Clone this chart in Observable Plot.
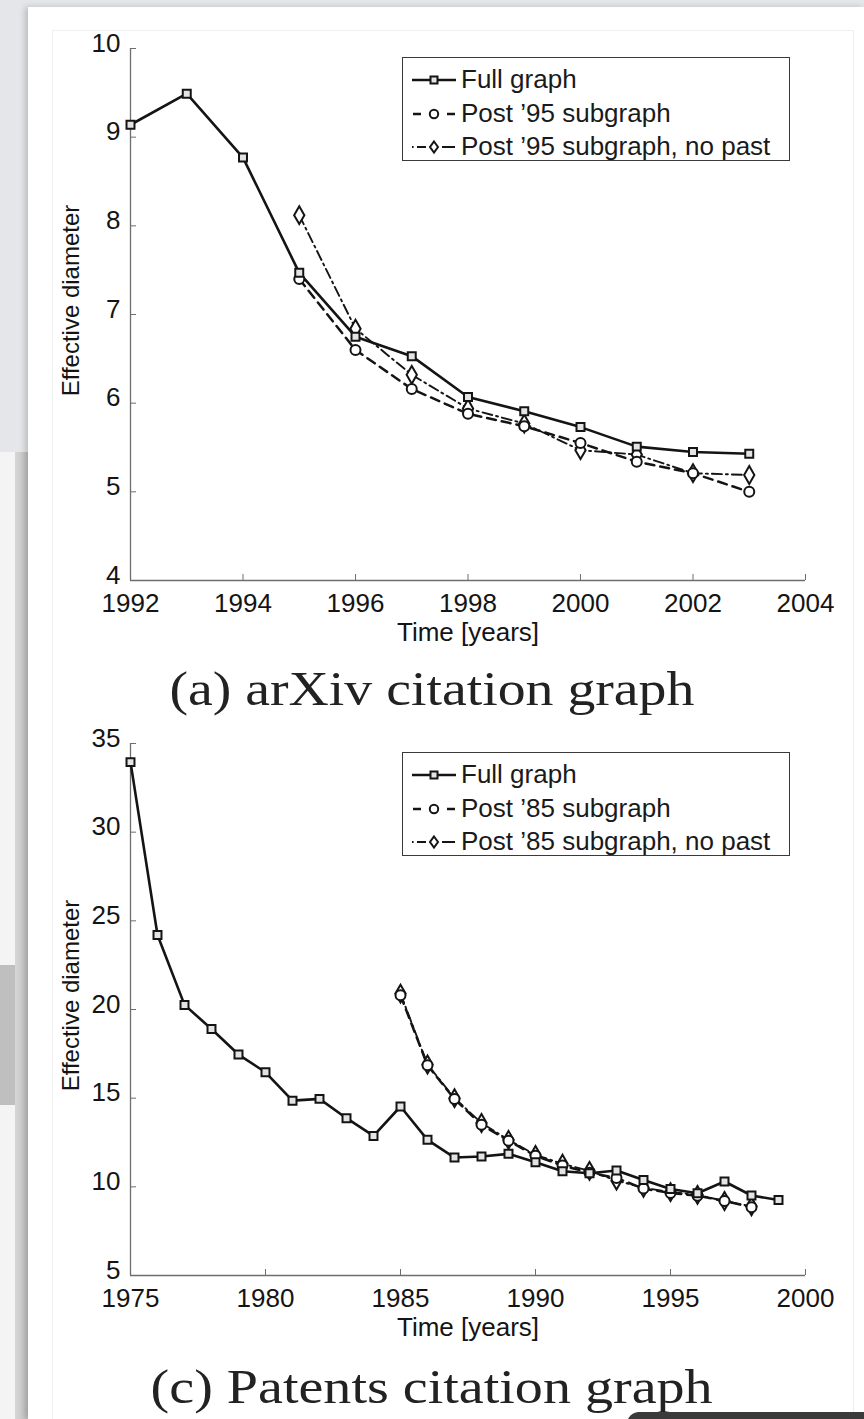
<!DOCTYPE html>
<html>
<head>
<meta charset="utf-8">
<script src="https://cdn.jsdelivr.net/npm/d3@7"></script>
<script src="https://cdn.jsdelivr.net/npm/@observablehq/plot@0.6"></script>
<style>
html,body{margin:0;padding:0;}
body{width:864px;height:1419px;position:relative;background:#e4e6e9;overflow:hidden;font-family:"Liberation Sans",Arial,Helvetica,sans-serif;}
#strip1{position:absolute;left:0;top:452px;width:15px;height:967px;background:#f4f4f4;}
#strip2{position:absolute;left:15px;top:452px;width:13px;height:967px;background:linear-gradient(to right,#d6d6d6,#c2c2c2);}
#strip3{position:absolute;left:0;top:965px;width:15px;height:140px;background:#bfbfbf;}
#page{position:absolute;left:28px;top:7px;width:836px;height:1412px;background:#fff;box-shadow:-3px 0 6px rgba(0,0,0,0.18);}
#inner{position:absolute;left:52px;top:30px;width:800px;height:1389px;border-left:1px solid #f0f0f0;border-top:1px solid #f0f0f0;border-right:1px solid #eeeeee;}
#dark{position:absolute;left:627px;top:1412px;width:250px;height:20px;background:#3a3a3a;border-radius:12px 12px 0 0;}
.chart{position:absolute;left:0;}
.legend{position:absolute;left:402px;width:386px;height:102px;border:1.5px solid #3a3a3a;background:#fff;}
.row{position:absolute;left:0;height:33px;width:386px;}
.row svg{position:absolute;left:9px;top:6px;}
.row span{position:absolute;left:58px;top:0;line-height:33px;font-size:26px;color:#1a1a1a;white-space:nowrap;}
.caption{position:absolute;left:0;width:864px;text-align:center;font-family:"Liberation Serif","Times New Roman",serif;font-size:48px;line-height:48px;color:#222;}
.caption span{display:inline-block;transform-origin:center;}
</style>
</head>
<body>
<div id="strip1"></div><div id="strip2"></div><div id="strip3"></div>
<div id="page"></div>
<div id="inner"></div>
<div id="chartA" class="chart" style="top:0"></div>
<div id="chartC" class="chart" style="top:700px"></div>
<div id="legA" class="legend" style="top:57px"></div>
<div id="legC" class="legend" style="top:752px"></div>
<div id="capA" class="caption" style="top:665px"><span data-w="525">(a) arXiv citation graph</span></div>
<div id="capC" class="caption" style="top:1363px"><span data-w="562">(c) Patents citation graph</span></div>
<div id="dark"></div>
<script>
// ---------- arXiv citation graph ----------
const arxivYears = [1992,1993,1994,1995,1996,1997,1998,1999,2000,2001,2002,2003];
const arxivFull = [9.14,9.49,8.77,7.47,6.75,6.53,6.07,5.91,5.73,5.51,5.45,5.43];
const arxivSubYears = [1995,1996,1997,1998,1999,2000,2001,2002,2003];
const arxivPost = [7.40,6.60,6.16,5.88,5.74,5.55,5.34,5.21,5.00];
const arxivNoPast = [8.12,6.84,6.32,5.94,5.77,5.47,5.42,5.21,5.19];
const arxivXTicks = [1992,1994,1996,1998,2000,2002,2004];
const arxivYTicks = [4,5,6,7,8,9,10];
const arxivLegend = ["Full graph","Post \u201995 subgraph","Post \u201995 subgraph, no past"];

// ---------- Patents citation graph ----------
const patYears = [1975,1976,1977,1978,1979,1980,1981,1982,1983,1984,1985,1986,1987,1988,1989,1990,1991,1992,1993,1994,1995,1996,1997,1998,1999];
const patFull = [33.95,24.2,20.26,18.9,17.46,16.46,14.86,14.96,13.87,12.87,14.53,12.65,11.65,11.71,11.86,11.39,10.88,10.77,10.92,10.39,9.88,9.64,10.30,9.51,9.26];
const patSubYears = [1985,1986,1987,1988,1989,1990,1991,1992,1993,1994,1995,1996,1997,1998];
const patPost = [20.8,16.85,14.95,13.5,12.6,11.75,11.2,10.8,10.5,9.9,9.65,9.5,9.2,8.85];
const patNoPast = [20.9,16.9,15.0,13.6,12.65,11.8,11.3,10.9,10.35,9.95,9.7,9.55,9.2,8.9];
const patXTicks = [1975,1980,1985,1990,1995,2000];
const patYTicks = [5,10,15,20,25,30,35];
const patLegend = ["Full graph","Post \u201985 subgraph","Post \u201985 subgraph, no past"];

const yLabel = "Effective diameter";
const xLabel = "Time [years]";

const font = '"Liberation Sans", Arial, Helvetica, sans-serif';
const ink = "#141414";
const axisGray = "#6e6e6e";

function toRows(years, vals) { return years.map((year, i) => ({year, v: vals[i]})); }

function makeChart({years, full, subYears, post, nopast, xDomain, xTicks, yDomain, yTicks, height, marginTop}) {
  const fullData = toRows(years, full);
  const postData = toRows(subYears, post);
  const noPastData = toRows(subYears, nopast);
  return Plot.plot({
    width: 864, height, marginTop, marginBottom: height - marginTop - 532, marginLeft: 130, marginRight: 59,
    style: {fontFamily: font, fontSize: "26px", background: "transparent", color: ink, overflow: "visible"},
    x: {domain: xDomain, label: null},
    y: {domain: yDomain, label: null},
    marks: [
      Plot.ruleX([xDomain[0]], {stroke: axisGray, strokeWidth: 1.3}),
      Plot.ruleY([yDomain[0]], {stroke: axisGray, strokeWidth: 1.3}),
      Plot.axisX({ticks: xTicks, tickFormat: "d", tickSize: -6, tickPadding: 19, stroke: axisGray, fill: ink, label: null}),
      // inward y ticks (no labels)
      Plot.axisY({ticks: yTicks, tickFormat: () => "", tickSize: -6, stroke: axisGray, label: null}),
      // y tick labels, sitting slightly above their ticks as in the reference
      Plot.axisY({ticks: yTicks, tickFormat: "d", tickSize: 0, tickPadding: 10, dy: -5, fill: ink, label: null}),
      Plot.text([yLabel], {text: d => d, frameAnchor: "left", textAnchor: "middle", lineAnchor: "middle", dx: -59, dy: -14, rotate: -90, fontSize: 24, fill: ink}),
      Plot.text([xLabel], {text: d => d, frameAnchor: "bottom", textAnchor: "middle", lineAnchor: "middle", dy: 52, fontSize: 26, fill: ink}),
      Plot.line(noPastData, {x: "year", y: "v", stroke: ink, strokeWidth: 1.9, strokeDasharray: "10,4,2,4"}),
      Plot.line(postData, {x: "year", y: "v", stroke: ink, strokeWidth: 2.5, strokeDasharray: "9,6"}),
      Plot.line(fullData, {x: "year", y: "v", stroke: ink, strokeWidth: 2.6}),
      Plot.dot(noPastData, {x: "year", y: "v", symbol: "diamond", r: 5.4, stroke: ink, strokeWidth: 2, fill: "white"}),
      Plot.dot(postData, {x: "year", y: "v", symbol: "circle", r: 5, stroke: ink, strokeWidth: 2, fill: "white"}),
      Plot.dot(fullData, {x: "year", y: "v", symbol: "square", r: 4.5, stroke: ink, strokeWidth: 2, fill: "#e4e4e4"})
    ]
  });
}

document.getElementById("chartA").append(makeChart({
  years: arxivYears, full: arxivFull, subYears: arxivSubYears, post: arxivPost, nopast: arxivNoPast,
  xDomain: [1992, 2004], xTicks: arxivXTicks, yDomain: [4, 10], yTicks: arxivYTicks, height: 650, marginTop: 48
}));
document.getElementById("chartC").append(makeChart({
  years: patYears, full: patFull, subYears: patSubYears, post: patPost, nopast: patNoPast,
  xDomain: [1975, 2000], xTicks: patXTicks, yDomain: [5, 35], yTicks: patYTicks, height: 645, marginTop: 43
}));

// legends
const sampleSvgs = [
  `<svg width="46" height="22"><line x1="0" y1="11" x2="44" y2="11" stroke="${ink}" stroke-width="2.6"/><rect x="18.5" y="7.5" width="7" height="7" fill="#e4e4e4" stroke="${ink}" stroke-width="2"/></svg>`,
  `<svg width="46" height="22"><path d="M1,11h8M35,11h8" stroke="${ink}" stroke-width="2.5"/><circle cx="22" cy="11" r="4.2" fill="white" stroke="${ink}" stroke-width="2"/></svg>`,
  `<svg width="46" height="22"><path d="M0,11h1.6M5,11h9M30,11h13" stroke="${ink}" stroke-width="1.9"/><path d="M22,5.5L26,11L22,16.5L18,11Z" fill="white" stroke="${ink}" stroke-width="2"/></svg>`
];
function fillLegend(id, labels) {
  const el = document.getElementById(id);
  labels.forEach((lab, i) => {
    const row = document.createElement("div");
    row.className = "row";
    row.style.top = (5 + i * 33.5) + "px";
    row.innerHTML = sampleSvgs[i] + `<span>${lab}</span>`;
    el.append(row);
  });
}
fillLegend("legA", arxivLegend);
fillLegend("legC", patLegend);

// stretch captions to the reference's width
document.querySelectorAll(".caption span").forEach(s => {
  const w = s.getBoundingClientRect().width;
  const target = +s.dataset.w;
  s.style.transform = `scaleX(${(target / w).toFixed(3)})`;
});
</script>
</body>
</html>
